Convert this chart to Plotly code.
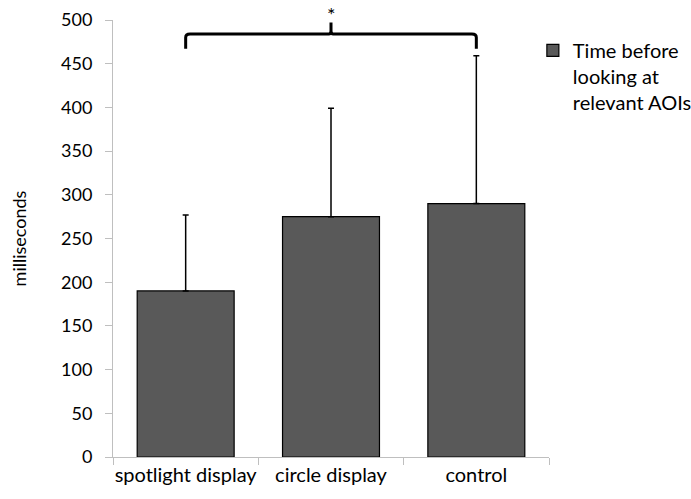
import plotly.graph_objects as go

categories = ["spotlight display", "circle display", "control"]
means = [190, 275, 290]
err_upper = [87, 124, 169]
series_name = "Time before<br>looking at<br>relevant AOIs"
y_ticks = [0, 50, 100, 150, 200, 250, 300, 350, 400, 450, 500]
sig_pair = (0, 2)
sig_label = "*"
bracket_y = 484

FONT = "Lato"
fig = go.Figure()
fig.add_trace(go.Bar(
    x=categories, y=means, name=series_name,
    marker=dict(color="#595959", line=dict(color="#000000", width=1.2)),
    error_y=dict(type="data", symmetric=False, array=err_upper, arrayminus=[0]*len(means),
                 color="#000000", thickness=1.5, width=3),
    showlegend=True,
))

# significance bracket
x0, x1 = sig_pair
xm = (x0 + x1) / 2
drop = 17
rise = 13
c = 0.03
path = (f"M {x0},{bracket_y - drop} L {x0},{bracket_y - 4} Q {x0},{bracket_y} {x0+c},{bracket_y} "
        f"L {xm-c/2},{bracket_y} Q {xm},{bracket_y} {xm},{bracket_y+4} L {xm},{bracket_y+rise} "
        f"M {xm},{bracket_y+4} Q {xm},{bracket_y} {xm+c/2},{bracket_y} "
        f"L {x1-c},{bracket_y} Q {x1},{bracket_y} {x1},{bracket_y - 4} L {x1},{bracket_y - drop}")
fig.add_shape(type="path", path=path, xref="x", yref="y",
              line=dict(color="#000000", width=3))
fig.add_annotation(x=xm, y=1.0, text=sig_label, showarrow=False,
                   xref="x", yref="paper", yanchor="middle", yshift=6,
                   font=dict(size=20, color="#000000", family=FONT))

fig.update_layout(
    width=691, height=499,
    margin=dict(l=113, r=142, t=20, b=42, autoexpand=False),
    paper_bgcolor="white", plot_bgcolor="white",
    bargap=0.333,
    font=dict(family=FONT, size=18, color="#000000"),
    legend=dict(x=0.963, y=0.975, xanchor="left", yanchor="top", valign="top",
                font=dict(size=20, family=FONT, color="#000000"), itemwidth=30,
                tracegroupgap=0),
    xaxis=dict(type="category", showline=True, linecolor="#bfbfbf", linewidth=1,
               ticks="outside", tickson="boundaries", ticklen=7, tickcolor="#bfbfbf",
               tickfont=dict(size=20, family=FONT), tickangle=0, showgrid=False,
               range=[-0.5, 2.5], automargin=False),
    yaxis=dict(range=[0, 500], tickvals=y_ticks, showline=True, linecolor="#bfbfbf",
               linewidth=1, ticks="outside", ticklen=7, tickcolor="#bfbfbf",
               showgrid=False, zeroline=False, tickfont=dict(size=18, family=FONT),
               ticklabelstandoff=9, automargin=False,
               title=dict(text="milliseconds", font=dict(size=18, family=FONT), standoff=29)),
)
fig.write_html("out.html", config={"displayModeBar": False},
               post_script="document.body.style.margin='0';")
